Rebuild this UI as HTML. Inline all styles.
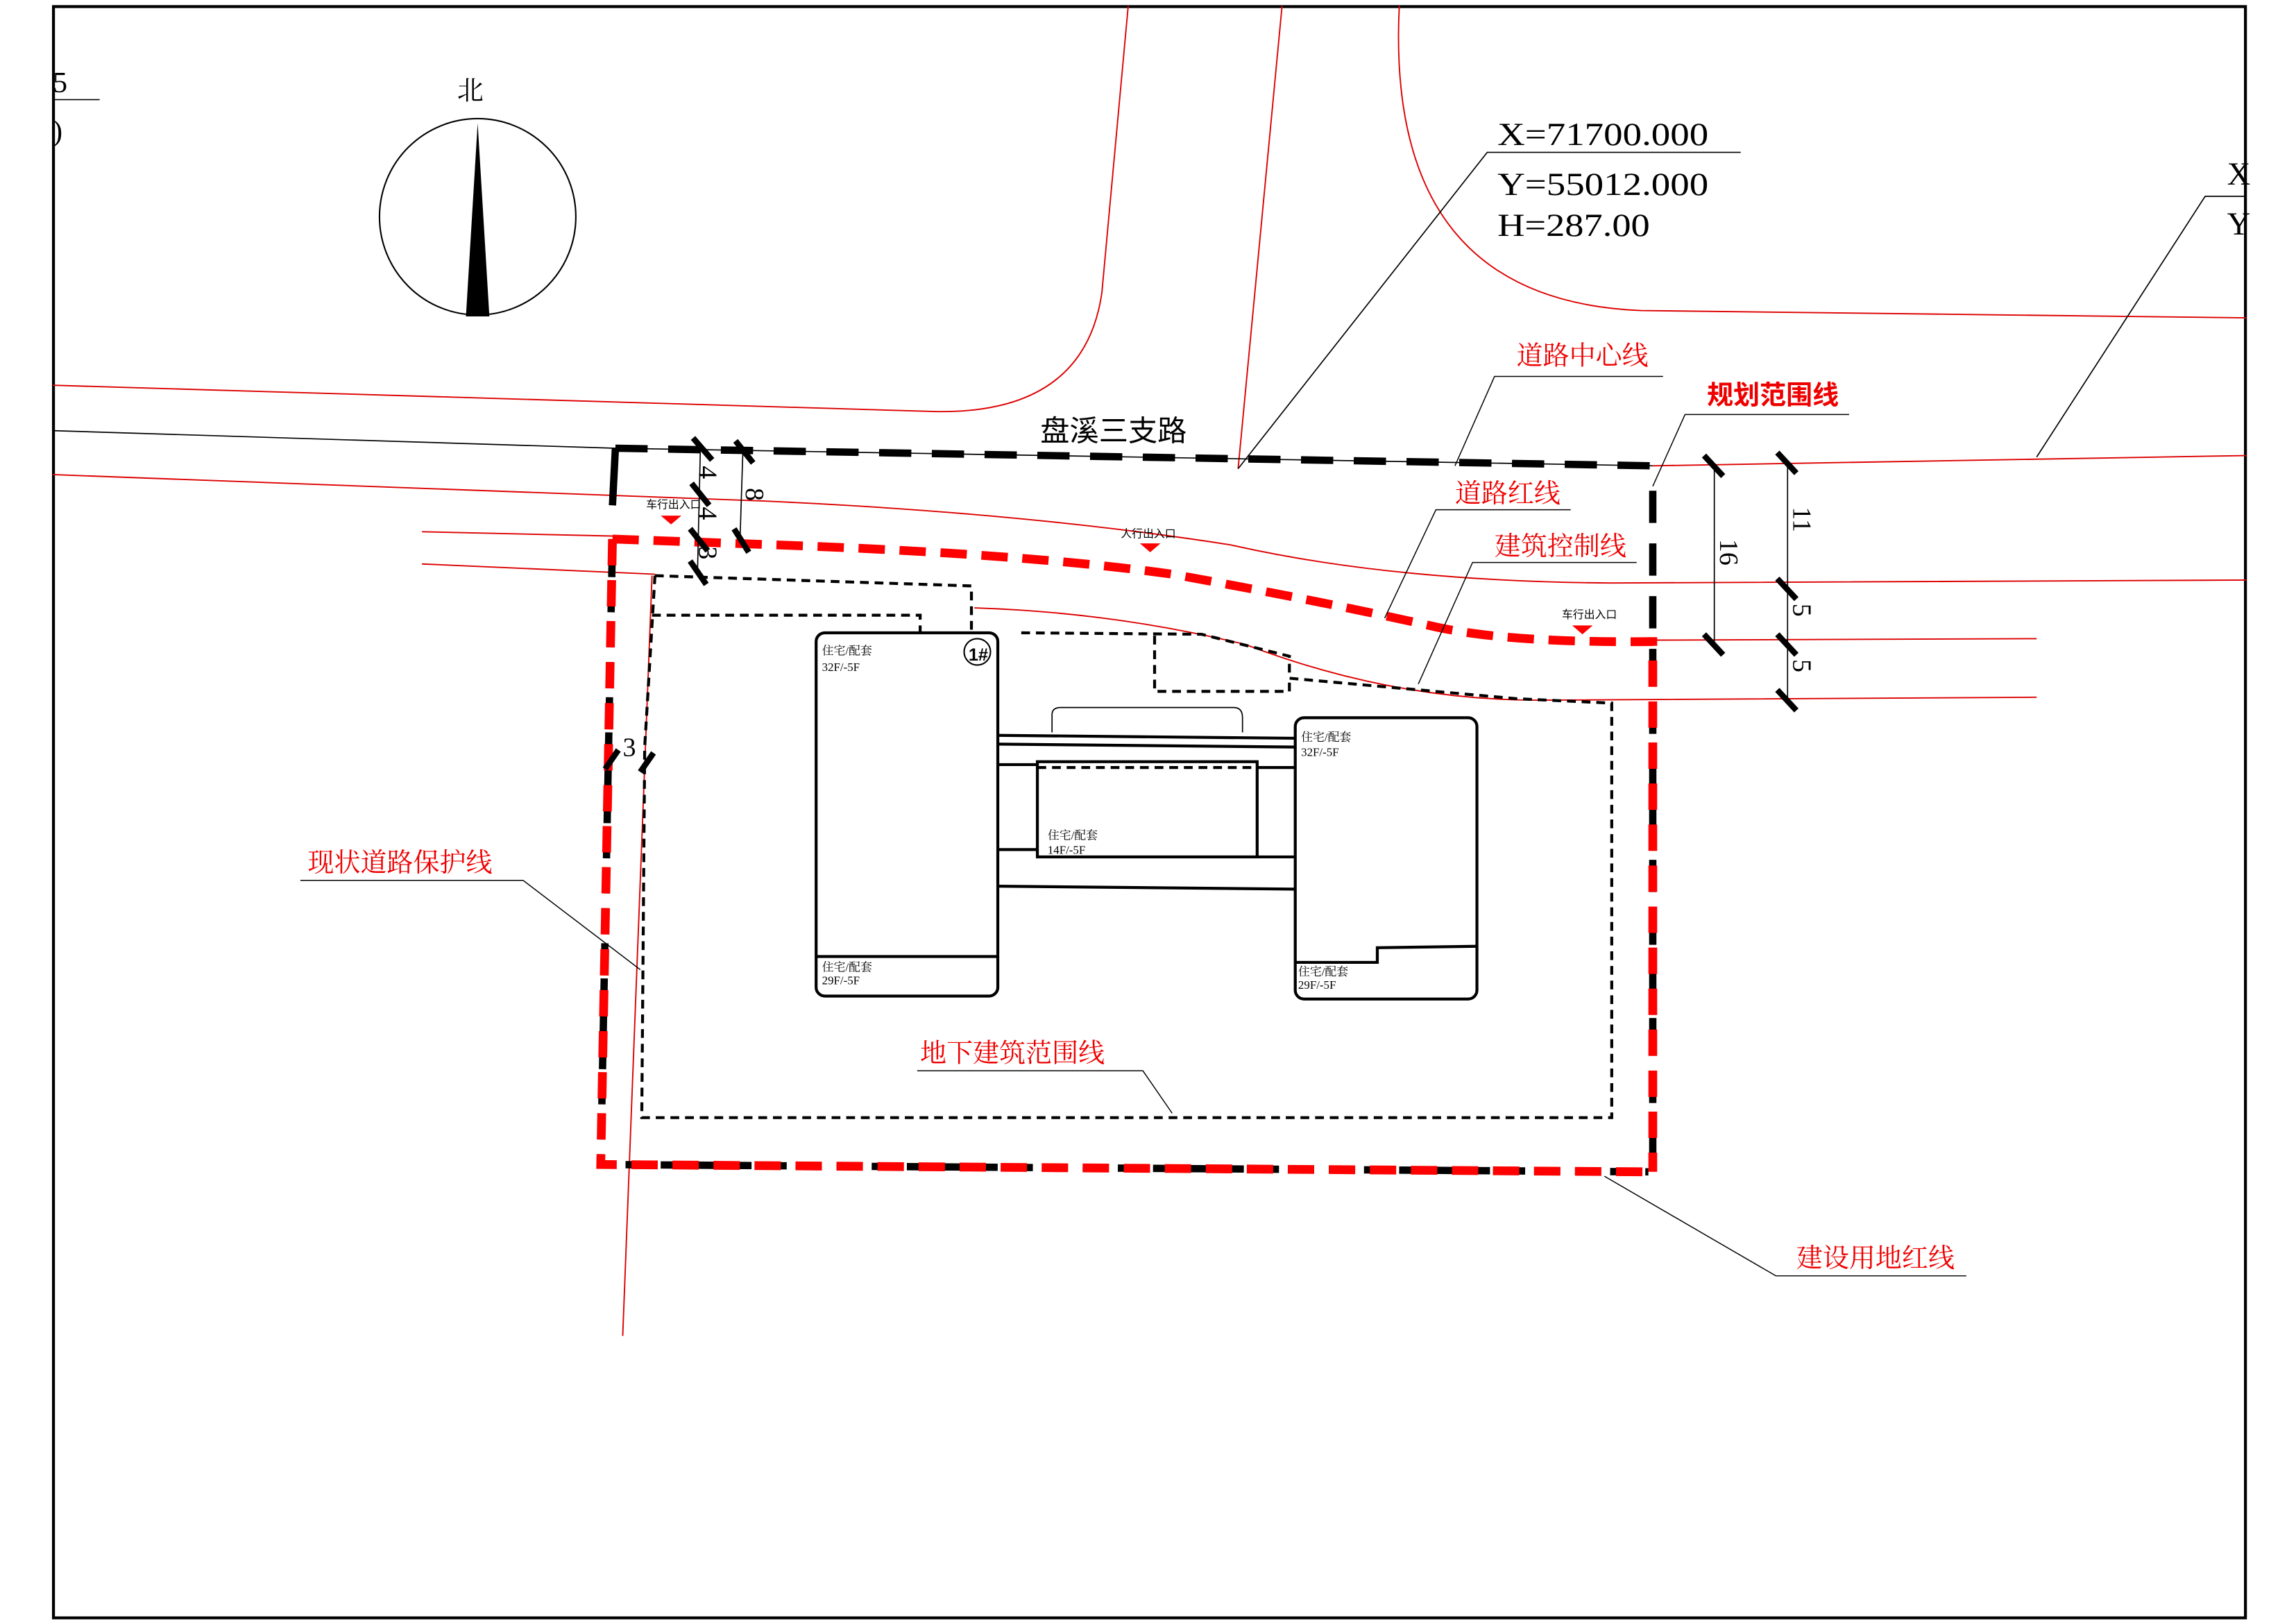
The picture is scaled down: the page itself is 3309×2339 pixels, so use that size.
<!DOCTYPE html>
<html><head><meta charset="utf-8"><style>
html,body{margin:0;padding:0;background:#fff}
svg{display:block}
text{font-family:"Liberation Sans","Noto Sans CJK SC",sans-serif}
.s text, text.s{font-family:"Liberation Serif","Noto Serif CJK SC",serif}
</style></head><body>
<svg width="3309" height="2339" viewBox="0 0 1567 1108" preserveAspectRatio="none" xmlns="http://www.w3.org/2000/svg">
<rect x="0" y="0" width="1567" height="1108" fill="#fff"/>
<rect x="36.5" y="4.5" width="1496" height="1100" fill="none" stroke="#000" stroke-width="2"/>
<text x="36" y="63" class="s" font-size="20">5</text>
<line x1="36" y1="68" x2="68" y2="68" stroke="#000" stroke-width="0.8"/>
<text x="36" y="96" class="s" font-size="20">)</text>
<circle cx="326" cy="148" r="67" fill="none" stroke="#000" stroke-width="1"/>
<polygon points="326,84 318,216 334,216" fill="#000"/>
<text x="312" y="68" font-size="18" class="s">北</text>
<g fill="none" stroke="#d00" stroke-width="0.9">
<path d="M36,263 L640,281 Q740,282 752,200 L770,4"/>
<path d="M875,4 L845,320"/>
<path d="M955,4 Q945,205 1120,212 L1533,217"/>
<path d="M36,324 L520,342 Q700,350 840,372 Q950,397 1100,398 L1533,396"/>
<path d="M288,363 L420,366"/>
<path d="M288,385 L447,392"/>
<path d="M665,415 Q760,418 850,440 Q950,478 1050,478 L1390,476"/>
<path d="M1128,437 L1390,436"/>
<path d="M445,393 L425,912"/>
<path d="M1128,318 L1533,311"/>
</g>
<path d="M36,294 L420,306 L1128,318" fill="none" stroke="#000" stroke-width="0.8"/>
<g fill="none" stroke="#000" stroke-width="5">
<path d="M420,306 L1128,318" stroke-dasharray="22 14"/>
<path d="M420,306 L418,345"/>
<path d="M1128,335 L1128,800" stroke-dasharray="22 14"/>
<path d="M418,368 L410,795 L1125,800" stroke-dasharray="14 10" stroke-dashoffset="12"/>
</g>
<g fill="none" stroke="#f00" stroke-width="6" stroke-dasharray="18 10">
<path d="M418,368 L530,372 Q700,378 800,392 Q900,410 980,428 Q1030,439 1128,438 L1128,800"/>
<path d="M418,368 L410,795 L1125,800"/>
</g>
<g fill="none" stroke="#000" stroke-width="2" stroke-dasharray="6 4">
<path d="M447,393 L663,400 L663,432"/>
<path d="M445,420 L628,420 L628,432"/>
<path d="M697,432 L820,433 L880,448 L880,463 L1035,477 L1100,480 L1100,763 L438,763 L440,510 L447,393"/>
<path d="M788,434 L788,472 L880,472 L880,463"/>
<path d="M708,524 L858,524"/>
</g>
<g fill="none" stroke="#000" stroke-width="2">
<rect x="557" y="432" width="124" height="248" rx="6"/>
<line x1="557" y1="653" x2="681" y2="653"/>
<rect x="884" y="490" width="124" height="192" rx="6"/>
<path d="M884,657 L940,657 L940,647 L1008,646"/>
<line x1="681" y1="502" x2="884" y2="504"/>
<line x1="681" y1="508" x2="884" y2="510"/>
<line x1="681" y1="522" x2="708" y2="522"/><line x1="858" y1="524" x2="884" y2="524"/>
<line x1="681" y1="580" x2="708" y2="580"/><line x1="858" y1="585" x2="884" y2="585"/>
<line x1="681" y1="605" x2="884" y2="607"/>
<rect x="708" y="520" width="150" height="65"/>
</g>
<path d="M718,500 L718,488 Q718,483 724,483 L842,483 Q848,483 848,490 L848,500" fill="none" stroke="#000" stroke-width="0.8"/>
<circle cx="667" cy="445" r="9" fill="none" stroke="#000" stroke-width="1"/>
<text x="661" y="451" font-size="12" font-weight="bold">1#</text>
<g font-size="8" class="s">
<text x="561" y="447">住宅/配套</text><text x="561" y="458">32F/-5F</text>
<text x="561" y="663">住宅/配套</text><text x="561" y="672">29F/-5F</text>
<text x="888" y="506">住宅/配套</text><text x="888" y="516">32F/-5F</text>
<text x="886" y="666">住宅/配套</text><text x="886" y="675">29F/-5F</text>
<text x="715" y="573">住宅/配套</text><text x="715" y="583">14F/-5F</text>
</g>
<g fill="#f00">
<polygon points="451,352 465,352 458,358"/>
<polygon points="778,371 792,371 785,377"/>
<polygon points="1073,427 1087,427 1080,433"/>
</g>
<g font-size="7.5">
<text x="441" y="347">车行出入口</text>
<text x="765" y="367">人行出入口</text>
<text x="1066" y="422">车行出入口</text>
</g>
<g stroke="#000" stroke-width="0.8"><line x1="478" y1="306" x2="476" y2="392"/><line x1="507" y1="308" x2="505" y2="370"/></g>
<g stroke="#000" stroke-width="4">
<line x1="473" y1="299" x2="486" y2="314"/><line x1="502" y1="301" x2="514" y2="316"/>
<line x1="472" y1="330" x2="484" y2="345"/><line x1="471" y1="361" x2="483" y2="376"/>
<line x1="501" y1="361" x2="511" y2="377"/><line x1="471" y1="383" x2="482" y2="399"/>
<line x1="413" y1="525" x2="422" y2="512"/><line x1="437" y1="527" x2="446" y2="514"/>
</g>
<g class="s" font-size="18">
<text transform="translate(477,318) rotate(90)">4</text>
<text transform="translate(477,346) rotate(90)">4</text>
<text transform="translate(509,333) rotate(90)">8</text>
<text transform="translate(477,373) rotate(90)">3</text>
<text x="425" y="516">3</text>
</g>
<g stroke="#000" stroke-width="0.8"><line x1="1170" y1="316" x2="1170" y2="440"/><line x1="1220" y1="316" x2="1220" y2="478"/></g>
<g stroke="#000" stroke-width="4">
<line x1="1163" y1="311" x2="1176" y2="325"/><line x1="1163" y1="433" x2="1176" y2="447"/>
<line x1="1213" y1="309" x2="1226" y2="323"/><line x1="1213" y1="395" x2="1226" y2="409"/>
<line x1="1213" y1="433" x2="1226" y2="447"/><line x1="1213" y1="471" x2="1226" y2="485"/>
</g>
<g class="s" font-size="18">
<text transform="translate(1174,368) rotate(90)">16</text>
<text transform="translate(1224,346) rotate(90)">11</text>
<text transform="translate(1224,412) rotate(90)">5</text>
<text transform="translate(1224,450) rotate(90)">5</text>
</g>
<g class="s" font-size="22">
<text x="1022" y="99" textLength="144" lengthAdjust="spacingAndGlyphs">X=71700.000</text>
<text x="1022" y="133" textLength="144" lengthAdjust="spacingAndGlyphs">Y=55012.000</text>
<text x="1022" y="161" textLength="104" lengthAdjust="spacingAndGlyphs">H=287.00</text>
<text x="1520" y="126">X</text>
<text x="1520" y="160">Y</text>
</g>
<g stroke="#000" stroke-width="0.8" fill="none">
<path d="M845,320 L1015,104 L1188,104"/>
<path d="M1390,312 L1505,134 L1533,134"/>
</g>
<text x="710" y="301" font-size="20">盘溪三支路</text>
<g fill="#e00" font-size="18" class="s">
<text x="1035" y="249">道路中心线</text>
<text x="1165" y="276" font-weight="bold" style="font-family:'Liberation Sans','Noto Sans CJK SC',sans-serif">规划范围线</text>
<text x="993" y="343">道路红线</text>
<text x="1020" y="379">建筑控制线</text>
<text x="210" y="595">现状道路保护线</text>
<text x="628" y="725">地下建筑范围线</text>
<text x="1226" y="865">建设用地红线</text>
</g>
<g stroke="#000" stroke-width="0.7" fill="none">
<path d="M993,318 L1020,257 L1135,257"/>
<path d="M1128,332 L1150,283 L1262,283"/>
<path d="M945,422 L980,348 L1072,348"/>
<path d="M968,467 L1005,384 L1117,384"/>
<path d="M437,662 L357,601 L205,601"/>
<path d="M800,760 L780,731 L626,731"/>
<path d="M1095,803 L1212,871 L1342,871"/>
</g>
</svg>
</body></html>
